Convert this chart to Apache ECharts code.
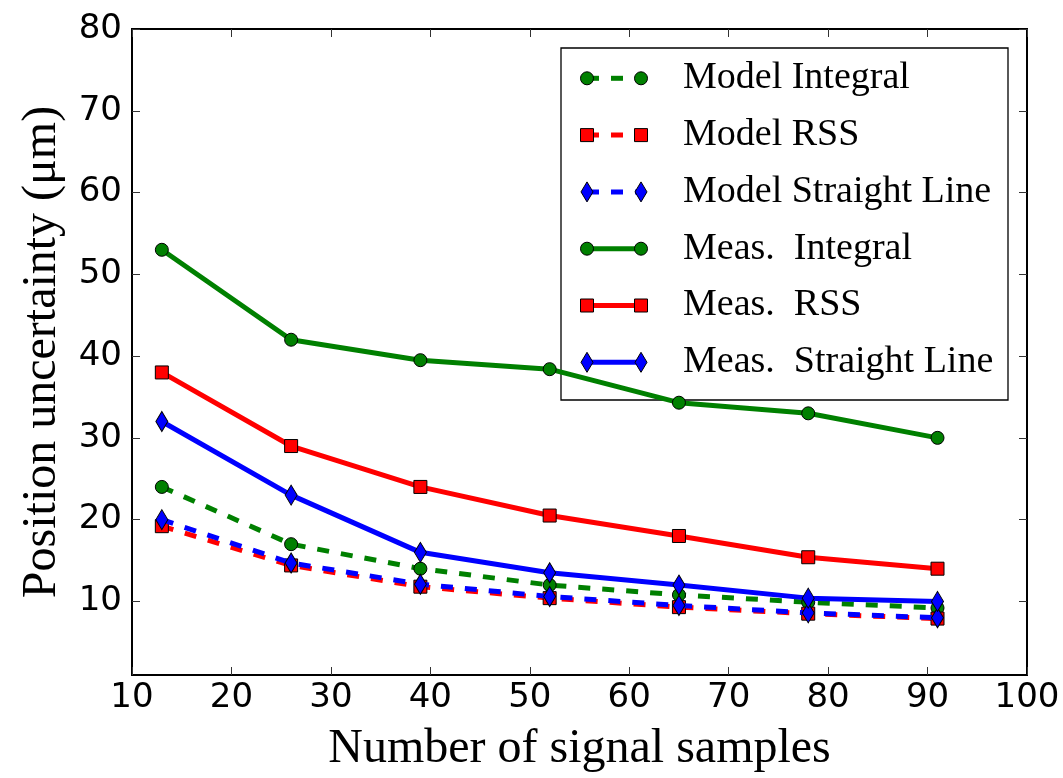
<!DOCTYPE html>
<html>
<head>
<meta charset="utf-8">
<script src="https://cdn.jsdelivr.net/npm/echarts@6/dist/echarts.min.js"></script>
<style>
  html, body { margin: 0; padding: 0; background: #fff; }
  #chart { width: 1063px; height: 778px; }
</style>
</head>
<body>
<div id="chart"></div>
<script>
// Number of signal samples on the x axis
const samples = [13, 26, 39, 52, 65, 78, 91];

// Position uncertainty (µm) per method
const modelIntegral = [24, 17, 14, 12, 10.8, 9.9, 9.2];
const modelRSS      = [19.2, 14.4, 11.8, 10.4, 9.3, 8.5, 7.9];
const modelStraight = [20, 14.7, 12.1, 10.6, 9.5, 8.6, 8.0];
const measIntegral  = [53, 42, 39.5, 38.4, 34.3, 33, 30];
const measRSS       = [38, 29, 24, 20.5, 18, 15.4, 14];
const measStraight  = [32, 23, 16, 13.5, 12, 10.4, 10];

const seriesNames = [
  'Model Integral', 'Model RSS', 'Model Straight Line',
  'Meas.  Integral', 'Meas.  RSS', 'Meas.  Straight Line'
];
const seriesValues = [modelIntegral, modelRSS, modelStraight, measIntegral, measRSS, measStraight];

const xTicks = [10, 20, 30, 40, 50, 60, 70, 80, 90, 100];
const yTicks = [10, 20, 30, 40, 50, 60, 70, 80];

// Visual style per series (same order as seriesNames)
const GREEN = '#008000', RED = '#ff0000', BLUE = '#0000ff';
const DASH = [12, 12];
const styles = [
  { color: GREEN, symbol: 'circle',  size: 13,       dashed: true },
  { color: RED,   symbol: 'rect',    size: 13,       dashed: true },
  { color: BLUE,  symbol: 'diamond', size: [12, 20], dashed: true },
  { color: GREEN, symbol: 'circle',  size: 13,       dashed: false },
  { color: RED,   symbol: 'rect',    size: 13,       dashed: false },
  { color: BLUE,  symbol: 'diamond', size: [12, 20], dashed: false }
];

const tickFont = { fontFamily: 'DejaVu Sans', fontSize: 34, color: '#000' };
const titleFont = { fontFamily: 'Liberation Serif', fontSize: 48, color: '#000' };

const series = seriesNames.map((name, i) => ({
  name,
  type: 'line',
  z: 2 + i,
  data: samples.map((x, k) => [x, seriesValues[i][k]]),
  symbol: styles[i].symbol,
  symbolSize: styles[i].size,
  showSymbol: true,
  lineStyle: {
    color: styles[i].color,
    width: 5,
    type: styles[i].dashed ? DASH : 'solid',
    cap: 'butt'
  },
  itemStyle: { color: styles[i].color, borderColor: '#000', borderWidth: 1 },
  emphasis: { disabled: true }
}));

// Legend box drawn as graphic elements (line with a marker at each end)
const LEG = { left: 561, top: 48, width: 447, height: 352, rowTop: 78.3, rowGap: 56.8,
              x1: 587, x2: 641, textX: 683 };

function markerShape(style, cx, cy) {
  const common = { style: { fill: style.color, stroke: '#000', lineWidth: 1 } };
  if (style.symbol === 'circle') {
    return Object.assign({ type: 'circle', shape: { cx, cy, r: 6.5 } }, common);
  }
  if (style.symbol === 'rect') {
    return Object.assign({ type: 'rect', shape: { x: cx - 6.5, y: cy - 6.5, width: 13, height: 13 } }, common);
  }
  const w = style.size[0] / 2, h = style.size[1] / 2;
  return Object.assign({ type: 'polygon',
    shape: { points: [[cx, cy - h], [cx + w, cy], [cx, cy + h], [cx - w, cy]] } }, common);
}

const legendChildren = [{
  type: 'rect',
  shape: { x: LEG.left, y: LEG.top, width: LEG.width, height: LEG.height },
  style: { fill: '#fff', stroke: '#000', lineWidth: 1.3 }
}];
seriesNames.forEach((name, i) => {
  const cy = LEG.rowTop + i * LEG.rowGap;
  const st = styles[i];
  legendChildren.push({
    type: 'line',
    shape: { x1: LEG.x1, y1: cy, x2: LEG.x2, y2: cy },
    style: { stroke: st.color, lineWidth: 5, lineDash: st.dashed ? DASH : null, lineCap: 'butt' }
  });
  legendChildren.push(markerShape(st, LEG.x1, cy));
  legendChildren.push(markerShape(st, LEG.x2, cy));
  legendChildren.push({
    type: 'text',
    x: LEG.textX, y: cy,
    style: { text: name, font: '38px "Liberation Serif"', fill: '#000',
             textAlign: 'left', textVerticalAlign: 'middle' }
  });
});

const tickStyle = { inside: true, length: 8, lineStyle: { color: '#333', width: 1 } };

const option = {
  animation: false,
  backgroundColor: '#fff',
  grid: {
    left: 132, right: 36, top: 29, bottom: 98,
    show: true, borderColor: '#000', borderWidth: 2, backgroundColor: 'transparent'
  },
  xAxis: [
    {
      type: 'value', min: 10, max: 100, interval: 10,
      axisLine: { show: false },
      axisTick: tickStyle,
      splitLine: { show: false },
      axisLabel: Object.assign({ margin: 6, formatter: v => xTicks.includes(v) ? String(v) : '' }, tickFont),
      name: 'Number of signal samples',
      nameLocation: 'middle',
      nameGap: 50,
      nameTextStyle: titleFont
    },
    {
      type: 'value', position: 'top', min: 10, max: 100, interval: 10,
      axisLine: { show: false },
      axisTick: tickStyle,
      splitLine: { show: false },
      axisLabel: { show: false }
    }
  ],
  yAxis: [
    {
      type: 'value', min: 1, max: 80,
      axisLine: { show: false },
      axisTick: Object.assign({ customValues: yTicks }, tickStyle),
      splitLine: { show: false },
      axisLabel: Object.assign({ margin: 10, customValues: yTicks }, tickFont),
      name: 'Position uncertainty (μm)',
      nameLocation: 'middle',
      nameGap: 66,
      nameTextStyle: titleFont
    },
    {
      type: 'value', position: 'right', min: 1, max: 80,
      axisLine: { show: false },
      axisTick: Object.assign({ customValues: yTicks }, tickStyle),
      splitLine: { show: false },
      axisLabel: { show: false }
    }
  ],
  series,
  graphic: [{ type: 'group', z: 100, children: legendChildren }]
};

const chart = echarts.init(document.getElementById('chart'), null, { renderer: 'canvas' });
chart.setOption(option);
</script>
</body>
</html>
